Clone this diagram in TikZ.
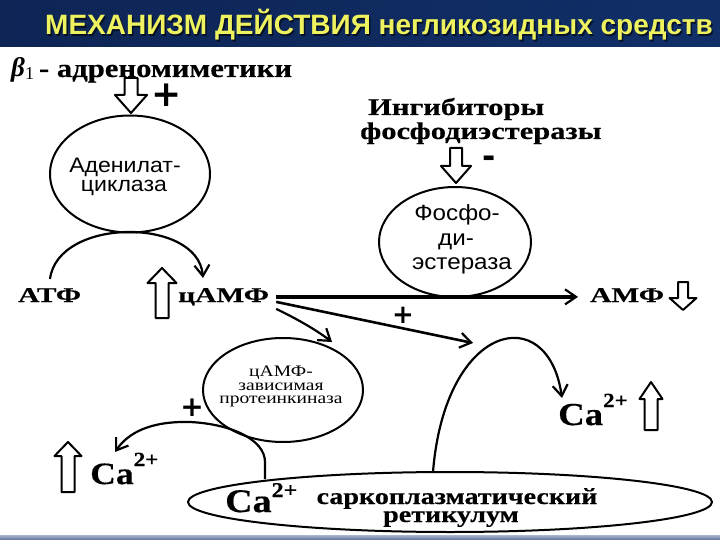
\documentclass[tikz,border=0pt]{standalone}
\usepackage{fontspec}
\setmainfont{Liberation Serif}
\newfontfamily\bsf[FakeStretch=1.4,FakeBold=0.4]{Liberation Serif Bold}
\newfontfamily\bsfb[FakeStretch=1.18,FakeBold=0.4]{Liberation Serif Bold}
\newfontfamily\bsfc[FakeStretch=1.27,FakeBold=0.4]{Liberation Serif Bold}
\newfontfamily\bsfd[FakeStretch=1.22,FakeBold=0.4]{Liberation Serif Bold}
\newfontfamily\caf[FakeStretch=1.15,FakeBold=0.4]{Liberation Serif Bold}
\newfontfamily\bif{Liberation Serif Bold Italic}
\newfontfamily\ssf[FakeStretch=1.1]{Liberation Sans}
\newfontfamily\srf[FakeStretch=1.22]{Liberation Serif}
\newfontfamily\tsf{Liberation Sans Bold}
\newfontfamily\dvb{DejaVu Sans Bold}
\usetikzlibrary{shapes.geometric,arrows.meta}
\newcommand{\pxs}[2]{\fontsize{#1}{#2}\selectfont}
\newcommand{\hollowarr}[7]{%
  \draw[hollow] (#1,#2) -- ({#1+#4},{#2+#3*#6}) -- ({#1+#5},{#2+#3*#6}) -- ({#1+#5},{#2+#3*#7}) -- ({#1-#5},{#2+#3*#7}) -- ({#1-#5},{#2+#3*#6}) -- ({#1-#4},{#2+#3*#6}) -- cycle;}
\definecolor{navyL}{HTML}{0A2152}
\definecolor{navyM}{HTML}{2A58AA}
\definecolor{navyR}{HTML}{0D2C66}
\definecolor{ttl}{HTML}{EEF25E}
\definecolor{stripT}{HTML}{AAB6CC}
\definecolor{stripB}{HTML}{5C7096}
\begin{document}
\begin{tikzpicture}[x=1pt,y=-1pt,line join=round,
  lbl/.style={inner sep=0pt,anchor=base west,font={\bsf\pxs{20}{20}}},
  ell/.style={draw,ellipse,line width=2pt,inner sep=0pt},
  etxt/.style={inner sep=0pt,anchor=base},
  sign/.style={inner sep=0pt,font={\dvb\pxs{32}{32}}},
  conn/.style={line width=2.2pt,-{Straight Barb[length=11pt,width=15pt,line width=2.2pt]}},
  hollow/.style={draw,line width=2pt,fill=white}]
\useasboundingbox (0,0) rectangle (720,540);
\fill[white] (0,0) rectangle (720,540);
% title bar
\shade[left color=navyL, middle color=navyM, right color=navyR] (0,0) rectangle (720,47);
\begin{scope}
\clip (0,0) rectangle (720,47);
\foreach \i in {0,3,...,780} \draw[white,opacity=0.06,line width=0.6pt] (\i,0) -- (\i-47,47);
\end{scope}
\shade[top color=stripT,bottom color=stripB] (0,535) rectangle (720,540);
\node[anchor=base west,inner sep=0pt,font={\tsf\pxs{28}{28}},text=black,opacity=0.6] (tshadow) at (46.5,36.5) {МЕХАНИЗМ ДЕЙСТВИЯ негликозидных средств};
\node[anchor=base west,inner sep=0pt,font={\tsf\pxs{28}{28}},text=ttl] (title) at (45,35) {МЕХАНИЗМ ДЕЙСТВИЯ негликозидных средств};

% beta line
\node[lbl,font={\bsfb\pxs{26}{26}}] (beta) at (11,77) {{\bif\pxs{27}{27}β}\raisebox{-3pt}{\normalfont\pxs{18}{18}1}\hspace{5pt}- адреномиметики};
\hollowarr{131}{113}{(-1)}{16}{6.5}{18}{35}
\node[sign,font={\dvb\pxs{36}{36}}] (plusA) at (167,95) {+};

% adenylate cyclase
\node[ell,minimum width=160pt,minimum height=117pt] (ac) at (130,174) {};
\node[etxt,font={\ssf\pxs{21}{21}}] (ac1) at (125,173) {Аденилат-};
\node[etxt,font={\ssf\pxs{21}{21}}] (ac2) at (124,192) {циклаза};

% PDE inhibitors
\node[lbl,font={\bsfc\pxs{24}{24}}] (inh1) at (368,115) {Ингибиторы};
\node[lbl,font={\bsfc\pxs{24}{24}}] (inh2) at (360,139) {фосфодиэстеразы};
\hollowarr{456}{183}{(-1)}{15}{6}{17}{35}
\node[sign] (minus) at (489,162) {-};

% PDE
\node[ell,minimum width=152pt,minimum height=110pt] (pde) at (455,242) {};
\node[etxt,font={\ssf\pxs{22}{22}}] (pde1) at (457,221) {Фосфо-};
\node[etxt,font={\ssf\pxs{22}{22}}] (pde2) at (456,245) {ди-};
\node[etxt,font={\ssf\pxs{22}{22}}] (pde3) at (462,269) {эстераза};

% ATP, cAMP, AMP
\node[lbl,font={\bsf\pxs{21}{21}}] (atp) at (18,302) {АТФ};
\node[lbl,font={\bsf\pxs{21}{21}}] (camp) at (178,302) {цАМФ};
\node[lbl,font={\bsf\pxs{21}{21}}] (amp) at (590,302) {АМФ};
\hollowarr{162}{268}{1}{14.5}{6.5}{15}{50}
\hollowarr{683}{310}{(-1)}{13.5}{5}{12}{28}

% protein kinase
\node[ell,minimum width=160pt,minimum height=104pt] (pk) at (283,390) {};
\node[etxt,font={\srf\pxs{16}{16}}] (pk1) at (281,376) {цАМФ-};
\node[etxt,font={\srf\pxs{16}{16}}] (pk2) at (281,390) {зависимая};
\node[etxt,font={\srf\pxs{16}{16}}] (pk3) at (281,403) {протеинкиназа};

\node[sign,font={\dvb\pxs{26}{26}}] (plusB) at (403,315) {+};
\node[sign,font={\dvb\pxs{28}{28}}] (plusC) at (192,408) {+};

% Ca labels
\node[lbl] (ca1) at (90,484) {{\caf\pxs{31}{31}Ca}\raisebox{18pt}{\caf\pxs{20}{20}2+}};
\hollowarr{68}{442}{1}{13.5}{6.5}{14}{50}
\node[lbl] (ca2) at (558,425) {{\caf\pxs{32}{32}Ca}\raisebox{18pt}{\caf\pxs{20}{20}2+}};
\hollowarr{651}{382}{1}{11.5}{6.5}{17}{48}

% sarcoplasmic reticulum
\node[ell,minimum width=524pt,minimum height=60pt] (sr) at (450,502) {};
\node[lbl] (ca3) at (225,512) {{\caf\pxs{33}{33}Ca}\raisebox{15pt}{\caf\pxs{21}{21}2+}};
\node[lbl,anchor=base,font={\bsfd\pxs{23}{23}}] (sr1) at (457,504) {саркоплазматический};
\node[lbl,anchor=base,font={\bsfd\pxs{23}{23}}] (sr2) at (451,522) {ретикулум};

% connectors
\coordinate (atpTop) at (50,279);
\coordinate (campIn) at (203,278);
\coordinate (arcTop) at (473,343);
\coordinate (pkIn) at (332,342);
\coordinate (srR) at (433,472);
\coordinate (ca2In) at (562,398);
\coordinate (srL) at (265,479);
\coordinate (ca1In) at (115,452);
\draw[conn] (atpTop) .. controls (58,217) and (198,217) .. (campIn);
\draw[conn,line width=3.8pt] ([xshift=7pt]camp.east) -- ([xshift=-12pt]camp.east -| amp.west);
\draw[conn,line width=2.6pt] ([xshift=7pt,yshift=-5pt]camp.east) -- (arcTop);
\draw[conn] ([xshift=7pt,yshift=-12pt]camp.east) .. controls (295,318) and (315,329) .. (pkIn);
\draw[conn] (srR) .. controls (445,322) and (548,300) .. (ca2In);
\draw[conn] (srL) -- (265,462) .. controls (265,440) and (232,424) .. (190,422) .. controls (150,421) and (128,433) .. (ca1In);
\end{tikzpicture}
\end{document}
